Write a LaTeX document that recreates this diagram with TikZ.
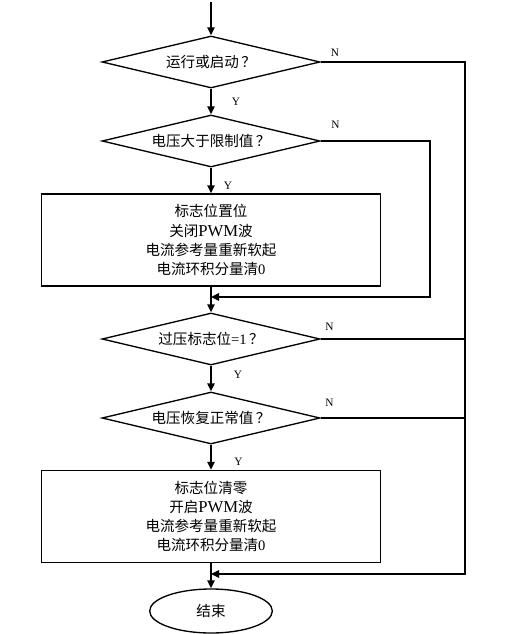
\documentclass[tikz,border=0pt]{standalone}
\usepackage{fontspec}
\setmainfont{Noto Sans CJK SC}
\newfontfamily\latin{Liberation Serif}
\usetikzlibrary{shapes.geometric,arrows.meta,positioning}

\begin{document}
\begin{tikzpicture}[x=0.75pt, y=-0.75pt,
  decision/.style={shape=diamond, draw=black, line width=1pt, aspect=4.2, inner sep=0pt, minimum width=163.5pt, minimum height=39pt, font=\fontsize{10.9}{14}\selectfont},
  process/.style={shape=rectangle, draw=black, line width=1pt, minimum width=254pt, minimum height=69pt, align=center, font=\fontsize{10.9}{14.3}\selectfont},
  terminal/.style={shape=ellipse, draw=black, line width=1pt, minimum width=92pt, minimum height=33pt, inner sep=0pt, font=\fontsize{10.9}{14}\selectfont},
  flow/.style={-{Triangle[length=6pt,width=5.5pt]}, line width=1.2pt, draw=black},
  wire/.style={line width=1.2pt, draw=black},
  yn/.style={font=\latin\fontsize{8.5}{9}\selectfont, inner sep=0pt}]
\useasboundingbox (0,0) rectangle (522,634);
\node[decision] (run) at (211,62) {运行或启动\,？};
\node[decision] (limit) at (211,141) {电压大于限制值\,？};
\node[process] (setflag) at (211,240) {标志位置位\\关闭{\latin\fontsize{12.5}{14}\selectfont PWM}波\\电流参考量重新软起\\电流环积分量清{\latin 0}};
\node[decision] (ovflag) at (211,339) {过压标志位{\latin =1}\,？};
\node[decision] (normal) at (211,418) {电压恢复正常值\,？};
\node[process] (clrflag) at (211,516.5) {标志位清零\\开启{\latin\fontsize{12.5}{14}\selectfont PWM}波\\电流参考量重新软起\\电流环积分量清{\latin 0}};
\node[terminal] (stop) at (211,611) {结束};
\coordinate (start) at (211,2);
\coordinate (rtop) at (465,62);
\coordinate (rbot) at (465,574);
\coordinate (join2) at (211,574);
\coordinate (ltop) at (430,141);
\coordinate (lbot) at (430,297);
\coordinate (join1) at (211,297);
% main line
\draw [flow] (start) -- (run.north);
\path [flow] (run) edge node[yn, right=15pt] {Y} (limit);
\path [flow] (limit) edge node[yn, right=9pt, yshift=-4pt] {Y} (setflag);
\path [flow] (setflag) edge (ovflag);
\path [flow] (ovflag) edge node[yn, right=16.5pt, yshift=2.5pt] {Y} (normal);
\path [flow] (normal) edge node[yn, right=17pt, yshift=-3.5pt] {Y} (clrflag);
\path [flow] (clrflag) edge (stop);
% N branches
\draw [flow] (limit.east) -- node[yn, pos=0, above right=9pt and 7.5pt] {N} (ltop) -- (lbot) -- (join1);
\draw [flow] (run.east) -- node[yn, pos=0, above right=3.5pt and 7pt] {N} (rtop) -- (rbot) -- (join2);
\draw [wire] (ovflag.east) -- node[yn, pos=0, above right=5.5pt and 3pt] {N} (ovflag.east -| rtop);
\draw [wire] (normal.east) -- node[yn, pos=0, above right=8pt and 3pt] {N} (normal.east -| rtop);
\end{tikzpicture}
\end{document}
